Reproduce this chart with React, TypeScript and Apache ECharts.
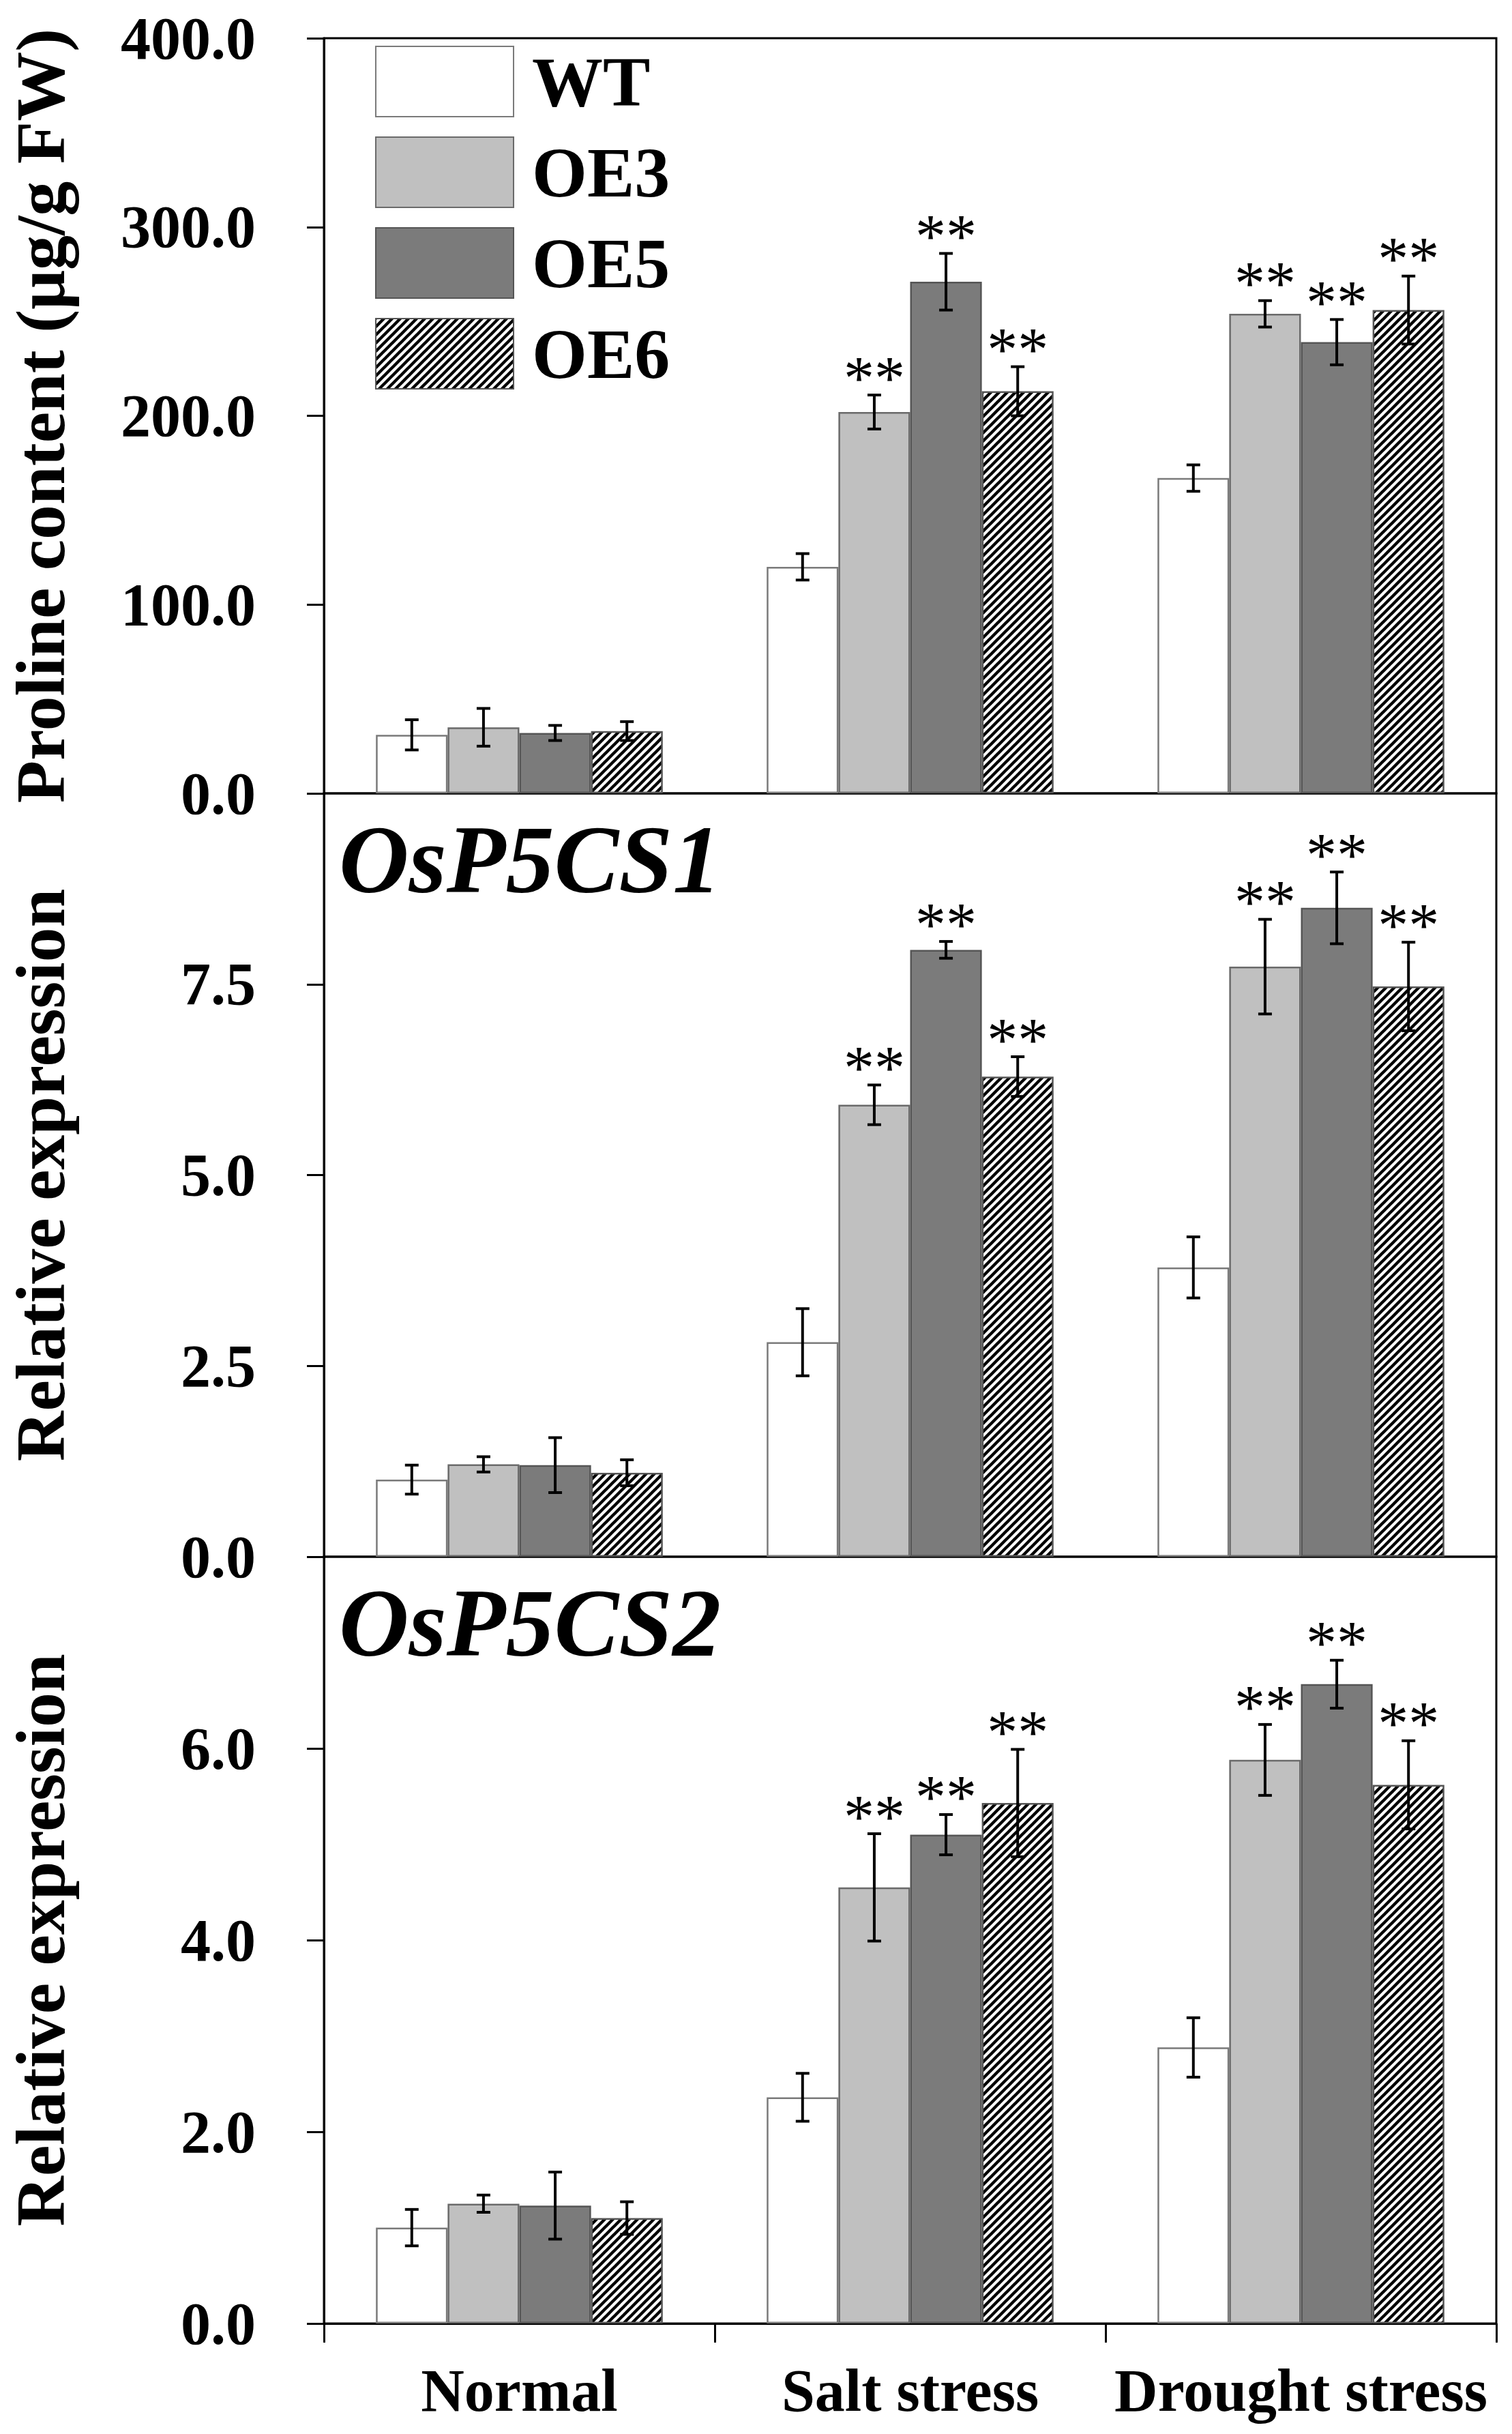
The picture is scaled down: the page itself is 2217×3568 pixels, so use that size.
import React, { useEffect, useRef } from 'react';
import * as echarts from 'echarts';

const categories = ['Normal', 'Salt stress', 'Drought stress'];
const lines = ['WT', 'OE3', 'OE5', 'OE6'];

// Proline content (µg/g FW): rows = WT, OE3, OE5, OE6; cols = categories
const prolineMeans = [[31, 120, 167], [35, 202, 254], [32, 271, 239], [33, 213, 256]];
const prolineErrs = [[8, 7, 7], [10, 9, 7], [4, 15, 12], [5, 13, 18]];
const prolineSig = [[0, 0, 0], [0, 1, 1], [0, 1, 1], [0, 1, 1]];

// OsP5CS1 relative expression
const p5cs1Means = [[1.01, 2.81, 3.79], [1.21, 5.92, 7.73], [1.2, 7.95, 8.5], [1.1, 6.29, 7.47]];
const p5cs1Errs = [[0.19, 0.44, 0.4], [0.1, 0.26, 0.62], [0.36, 0.11, 0.47], [0.17, 0.26, 0.58]];
const p5cs1Sig = [[0, 0, 0], [0, 1, 1], [0, 1, 1], [0, 1, 1]];

// OsP5CS2 relative expression
const p5cs2Means = [[1.0, 2.36, 2.88], [1.25, 4.55, 5.88], [1.23, 5.1, 6.67], [1.1, 5.43, 5.62]];
const p5cs2Errs = [[0.19, 0.25, 0.31], [0.09, 0.56, 0.37], [0.35, 0.21, 0.25], [0.17, 0.56, 0.46]];
const p5cs2Sig = [[0, 0, 0], [0, 1, 1], [0, 1, 1], [0, 1, 1]];

const yMax = [400, 10, 8];
const yInterval = [100, 2.5, 2];
const yNames = ['Proline content (μg/g FW)', 'Relative expression', 'Relative expression'];
const geneLabels = ['', 'OsP5CS1', 'OsP5CS2'];
const sigMark = '**';

const FONT = "'Liberation Serif', 'Times New Roman', serif";
const CAT_GAP = 0.266;

export default function App() {
  const ref = useRef<HTMLDivElement>(null);

  useEffect(() => {
    document.body.style.margin = '0';
    if (!ref.current) return;
    const chart = echarts.init(ref.current, undefined, { renderer: 'svg' });

    const T = 12;
    const cv = document.createElement('canvas');
    cv.width = T;
    cv.height = T;
    const ctx = cv.getContext('2d')!;
    ctx.fillStyle = '#ffffff';
    ctx.fillRect(0, 0, T, T);
    ctx.strokeStyle = '#000000';
    ctx.lineWidth = 4.4;
    ctx.beginPath();
    ctx.moveTo(-T / 2, T / 2); ctx.lineTo(T / 2, -T / 2);
    ctx.moveTo(0, T); ctx.lineTo(T, 0);
    ctx.moveTo(T / 2, T * 1.5); ctx.lineTo(T * 1.5, T / 2);
    ctx.stroke();
    const hatch: any = { image: cv, repeat: 'repeat' };

    const colors: any[] = ['#ffffff', '#c0c0c0', '#7b7b7b', hatch];
    const borders = ['#7a7a7a', '#6a6a6a', '#555555', '#555555'];

    const panels = [
      { means: prolineMeans, errs: prolineErrs, sig: prolineSig },
      { means: p5cs1Means, errs: p5cs1Errs, sig: p5cs1Sig },
      { means: p5cs2Means, errs: p5cs2Errs, sig: p5cs2Sig },
    ];

    const gridTops = [56, 1163, 2282];
    const gridH = [1107, 1119, 1124];

    const grid = gridTops.map((t, i) => ({
      left: 468, right: 23, top: t, height: gridH[i],
      show: true, borderColor: '#000', borderWidth: 3, backgroundColor: 'transparent',
    }));

    const xAxis = [0, 1, 2].map((i) => ({
      type: 'category', gridIndex: i, data: categories, show: i === 2,
      axisLine: { show: true, lineStyle: { color: '#000', width: 3 } },
      axisTick: { show: true, inside: false, interval: 0, length: 28, lineStyle: { color: '#000', width: 3 } },
      axisLabel: {
        interval: 0, fontFamily: FONT, fontSize: 88, fontWeight: 'bold', color: '#000', margin: 54,
      },
    }));

    const yAxis = [0, 1, 2].map((i) => ({
      type: 'value', gridIndex: i, min: 0, max: yMax[i], interval: yInterval[i],
      name: yNames[i], nameLocation: 'middle', nameGap: 365, nameRotate: 90,
      nameTextStyle: { fontFamily: FONT, fontSize: 102, fontWeight: 'bold', color: '#000' },
      axisLine: { show: true, lineStyle: { color: '#000', width: 3 } },
      axisTick: { show: true, inside: false, length: 25, lineStyle: { color: '#000', width: 3 } },
      splitLine: { show: false },
      axisLabel: {
        fontFamily: FONT, fontSize: 88, fontWeight: 'bold', color: '#000', margin: 100, lineHeight: 60,
        showMaxLabel: i === 0, formatter: (v: number) => v.toFixed(1),
      },
    }));

    const series: any[] = [];
    panels.forEach((p, pi) => {
      lines.forEach((ln, li) => {
        series.push({
          type: 'bar', name: ln, xAxisIndex: pi, yAxisIndex: pi,
          data: p.means[li],
          barGap: '0%', barCategoryGap: (CAT_GAP * 100) + '%',
          itemStyle: { color: colors[li], borderColor: borders[li], borderWidth: 2.5 },
        });
      });
      const errData: number[][] = [];
      lines.forEach((_, li) => {
        categories.forEach((_, ci) => {
          errData.push([ci, p.means[li][ci], p.errs[li][ci], p.sig[li][ci], li]);
        });
      });
      series.push({
        type: 'custom', name: 'err' + pi, xAxisIndex: pi, yAxisIndex: pi, z: 10,
        data: errData,
        encode: { x: 0, y: 1 },
        renderItem: (params: any, api: any) => {
          const ci = api.value(0);
          const v = api.value(1);
          const e = api.value(2);
          const s = api.value(3);
          const si = api.value(4);
          const c = api.coord([ci, v]);
          const bw = (api.size([1, 0])[0] * (1 - CAT_GAP)) / 4;
          const x = c[0] + (si - 1.5) * bw;
          const top = api.coord([ci, v + e])[1];
          const bot = api.coord([ci, v - e])[1];
          const cap = 10;
          const st = { stroke: '#000', lineWidth: 4 };
          const children: any[] = [
            { type: 'line', shape: { x1: x, y1: top, x2: x, y2: bot }, style: st },
            { type: 'line', shape: { x1: x - cap, y1: top, x2: x + cap, y2: top }, style: st },
            { type: 'line', shape: { x1: x - cap, y1: bot, x2: x + cap, y2: bot }, style: st },
          ];
          if (s) {
            children.push({
              type: 'text', x, y: top + 20,
              style: {
                text: sigMark, fontFamily: FONT, fontSize: 90, fill: '#000',
                textAlign: 'center', textVerticalAlign: 'bottom',
              },
            });
          }
          return { type: 'group', children };
        },
      });
    });

    const graphic: any[] = [];
    geneLabels.forEach((g, i) => {
      if (!g) return;
      graphic.push({
        type: 'text', x: 497, y: gridTops[i] + 26,
        style: {
          text: g, fontFamily: FONT, fontSize: 142, fontWeight: 'bold', fontStyle: 'italic',
          fill: '#000', textVerticalAlign: 'top',
        },
      });
    });

    chart.setOption({
      animation: false,
      backgroundColor: '#ffffff',
      grid, xAxis, yAxis, series, graphic,
      legend: {
        data: lines, orient: 'vertical', left: 545, top: 62,
        itemWidth: 202, itemHeight: 103, itemGap: 28, icon: 'rect',
        textStyle: { fontFamily: FONT, fontSize: 104, fontWeight: 'bold', color: '#000', padding: [0, 0, 0, 22] },
      },
    });

    return () => chart.dispose();
  }, []);

  return <div ref={ref} style={{ width: 2217, height: 3568 }} />;
}
